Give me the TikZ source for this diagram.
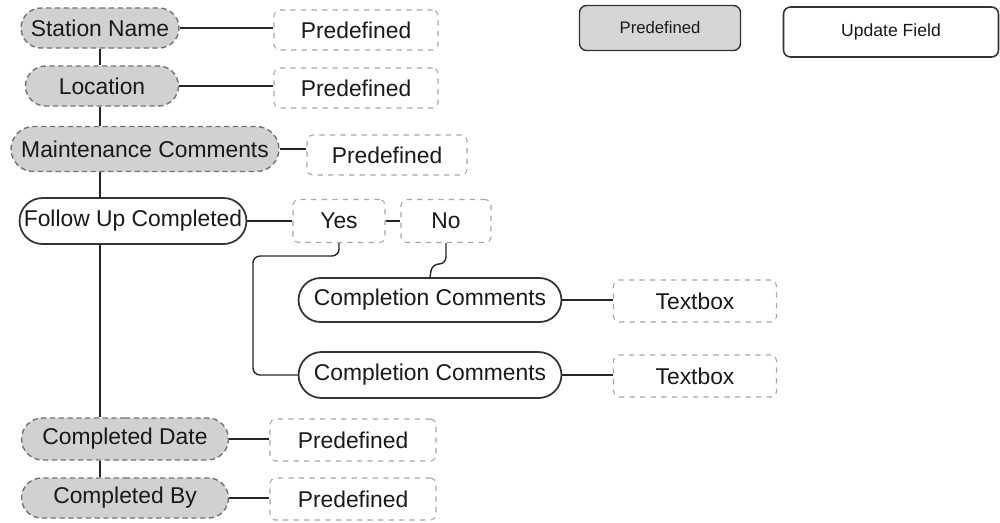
\documentclass[tikz,border=0pt]{standalone}
\usepackage{fontspec}
\setmainfont{Liberation Sans}
\usetikzlibrary{shapes.misc}
\begin{document}
\begin{tikzpicture}[x=0.02cm,y=-0.02cm,
  every node/.style={font=\fontsize{13}{15}\selectfont, text=black!90, inner sep=2pt},
  graypill/.style={rounded rectangle, draw=black!55, densely dashed, fill=black!18, line width=0.8pt},
  whitepill/.style={rounded rectangle, draw=black!80, fill=white, line width=1pt},
  predef/.style={rectangle, rounded corners=3pt, draw=black!35, dashed, fill=white, line width=0.6pt},
  link/.style={draw=black!85, line width=0.8pt},
  legendgray/.style={rectangle, rounded corners=4pt, draw=black!80, fill=black!16, line width=0.8pt, font=\fontsize{9.5}{11}\selectfont},
  legendwhite/.style={rectangle, rounded corners=4pt, draw=black!80, fill=white, line width=0.9pt, font=\fontsize{10}{12}\selectfont}
]
\useasboundingbox[fill=white] (0,0) rectangle (1000,522);

% left column
\node[graypill, minimum width=3.3cm, minimum height=0.8cm] (sn) at (100,28) {Station Name};
\node[graypill, minimum width=3.2cm, minimum height=0.8cm] (loc) at (102,86) {Location};
\node[graypill, minimum width=5.5cm, minimum height=0.9cm] (mc) at (145,149) {Maintenance Comments};
\node[whitepill, minimum width=4.68cm, minimum height=0.92cm] (fu) at (133,221) {Follow Up Completed};
\node[graypill, minimum width=4.28cm, minimum height=0.84cm] (cd) at (125,439) {Completed Date};
\node[graypill, minimum width=4.28cm, minimum height=0.8cm] (cb) at (125,498) {Completed By};

% predefined boxes
\node[predef, minimum width=3.28cm, minimum height=0.8cm] (p1) at (356,30) {Predefined};
\node[predef, minimum width=3.28cm, minimum height=0.8cm] (p2) at (356,88) {Predefined};
\node[predef, minimum width=3.2cm, minimum height=0.8cm] (p3) at (387,155) {Predefined};
\node[predef, minimum width=3.32cm, minimum height=0.84cm] (p4) at (353,440) {Predefined};
\node[predef, minimum width=3.32cm, minimum height=0.84cm] (p5) at (353,499) {Predefined};

% yes / no
\node[predef, minimum width=1.84cm, minimum height=0.86cm] (yes) at (339,221) {Yes};
\node[predef, minimum width=1.8cm, minimum height=0.86cm] (no) at (446,221) {No};

% completion comments
\node[whitepill, minimum width=5.4cm, minimum height=0.88cm] (cc1) at (430,300) {Completion Comments};
\node[whitepill, minimum width=5.4cm, minimum height=0.92cm] (cc2) at (430,375) {Completion Comments};
\node[predef, minimum width=3.26cm, minimum height=0.84cm] (t1) at (695,301) {Textbox};
\node[predef, minimum width=3.26cm, minimum height=0.84cm] (t2) at (695,376) {Textbox};

% legend
\node[legendgray, minimum width=3.22cm, minimum height=0.9cm] (lg) at (660,28) {Predefined};
\node[legendwhite, minimum width=4.3cm, minimum height=1.0cm] (lw) at (891,32) {Update Field};

% trunk
\draw[link] (sn.south) -- (sn.south |- loc.north);
\draw[link] (sn.south |- loc.south) -- (sn.south |- mc.north);
\draw[link] (sn.south |- mc.south) -- (sn.south |- fu.north);
\draw[link] (sn.south |- fu.south) -- (sn.south |- cd.north);
\draw[link] (sn.south |- cd.south) -- (sn.south |- cb.north);

% horizontal links
\draw[link] (sn.east) -- (p1.west |- sn.east);
\draw[link] (loc.east) -- (p2.west |- loc.east);
\draw[link] (mc.east) -- (p3.west |- mc.east);
\draw[link] (fu.east) -- (yes.west);
\draw[link] (yes.east) -- (no.west);
\draw[link] (cc1.east) -- (t1.west |- cc1.east);
\draw[link] (cc2.east) -- (t2.west |- cc2.east);
\draw[link] (cd.east) -- (p4.west |- cd.east);
\draw[link] (cb.east) -- (p5.west |- cb.east);

% yes / no branches
\coordinate (yj) at (253,256);
\draw[link, rounded corners=4pt] (yes.south) |- (yj) |- (cc2.west);
\coordinate (nj) at (432,264);
\draw[link, rounded corners=4pt] (no.south) |- (nj) -- (cc1.north);
\end{tikzpicture}
\end{document}
